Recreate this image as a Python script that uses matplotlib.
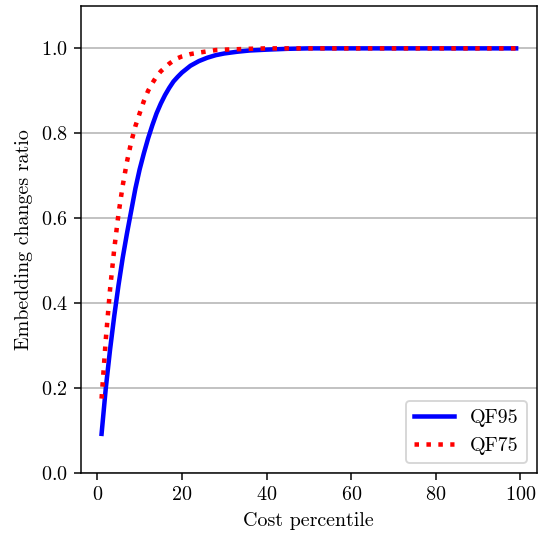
import matplotlib
matplotlib.use("Agg")
import matplotlib.pyplot as plt

plt.rcParams['font.family'] = 'serif'
plt.rcParams['font.serif'] = ['cmr10', 'DejaVu Serif']
plt.rcParams['mathtext.fontset'] = 'cm'
plt.rcParams['axes.formatter.use_mathtext'] = True
plt.rcParams['font.size'] = 10.7

percentile = [1, 2, 3, 4, 5, 6, 7, 8, 9, 10, 11, 12, 13, 14, 15, 16, 17, 18, 19, 20,
              22, 24, 26, 28, 30, 33, 36, 40, 45, 50, 60, 70, 80, 90, 99]
qf95 = [0.092, 0.200, 0.290, 0.370, 0.442, 0.507, 0.564, 0.617, 0.670, 0.715,
        0.753, 0.788, 0.819, 0.847, 0.870, 0.890, 0.907, 0.922, 0.933, 0.943,
        0.959, 0.970, 0.978, 0.984, 0.988, 0.992, 0.995, 0.997, 0.999,
        1.0, 1.0, 1.0, 1.0, 1.0, 1.0]
qf75 = [0.175, 0.315, 0.432, 0.528, 0.610, 0.677, 0.733, 0.779, 0.817, 0.847,
        0.876, 0.900, 0.918, 0.934, 0.946, 0.955, 0.964, 0.971, 0.977, 0.981,
        0.9865, 0.990, 0.993, 0.996, 0.997, 0.998, 0.999, 1.0, 1.0,
        1.0, 1.0, 1.0, 1.0, 1.0, 1.0]
labels = ['QF95', 'QF75']

DPI = 135
fig = plt.figure(figsize=(539 / DPI, 538 / DPI), dpi=DPI)
ax = fig.add_axes([0.150, 0.121, 0.846, 0.868])
ax.plot(percentile, qf95, color='blue', lw=2.4, label=labels[0])
ax.plot(percentile, qf75, color='red', lw=2.4, ls=':', label=labels[1])
ax.set_ylim(0, 1.1)
ax.set_xticks([0, 20, 40, 60, 80, 100])
ax.set_yticks([0.0, 0.2, 0.4, 0.6, 0.8, 1.0])
ax.yaxis.grid(True, color='#b0b0b0', lw=0.8)
ax.set_axisbelow(True)
ax.set_xlabel('Cost percentile')
ax.set_ylabel('Embedding changes ratio')
ax.legend(loc='lower right')
fig.savefig('out.png', dpi=DPI)
